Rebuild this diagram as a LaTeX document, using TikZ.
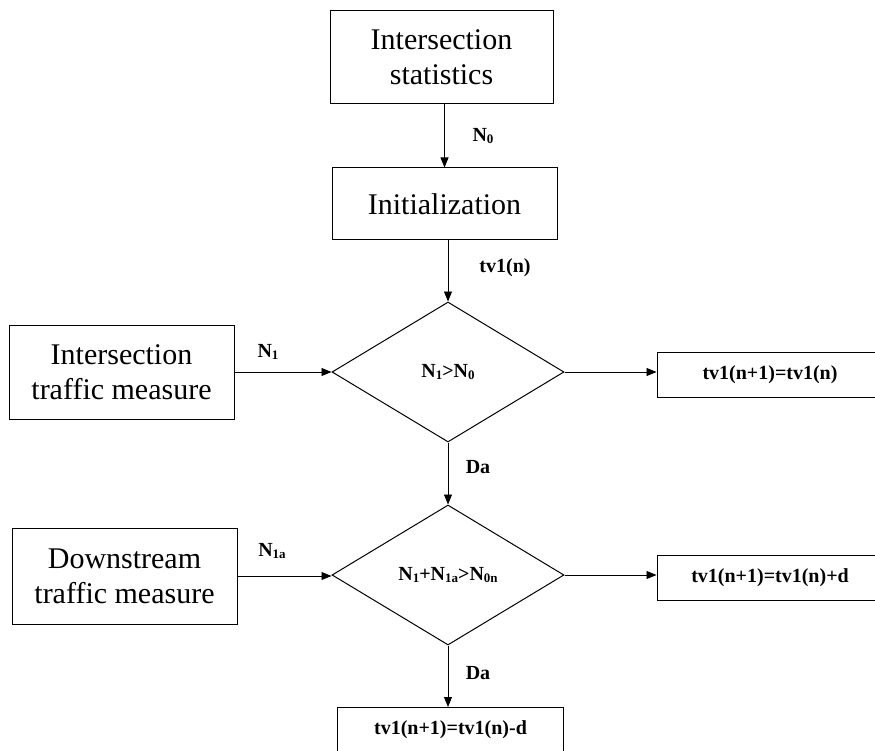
\documentclass[tikz,border=0pt]{standalone}
\usepackage{fontspec}
\setmainfont{Liberation Serif}
\usetikzlibrary{shapes.geometric,arrows.meta}
\newcommand{\mysub}[1]{\raisebox{-0.3ex}{\fontsize{13}{13}\selectfont #1}}
\begin{document}
\begin{tikzpicture}[x=1pt,y=-1pt,
  bigbox/.style={draw,line width=1pt,inner sep=0pt,align=center,
    font=\fontsize{30}{35}\selectfont},
  smallbox/.style={draw,line width=1pt,inner sep=0pt,align=center,
    minimum width=226pt,minimum height=45pt,font=\fontsize{20}{24}\selectfont\bfseries},
  decision/.style={draw,line width=1pt,diamond,aspect=1.657,inner sep=0pt,
    minimum width=232pt,minimum height=140pt,font=\fontsize{20}{24}\selectfont\bfseries},
  lbl/.style={inner sep=0pt,font=\fontsize{20}{24}\selectfont\bfseries},
  arr/.style={draw,line width=0.8pt,-{Triangle[length=10pt,width=8pt]}}]
\useasboundingbox (0,0) rectangle (875,751);
\clip (0,0) rectangle (875,751);
\node[bigbox,minimum width=223pt,minimum height=93pt] (stats) at (441.5,57.5) {Intersection\\statistics};
\node[bigbox,minimum width=225pt,minimum height=72pt] (init) at (444.5,204) {Initialization};
\node[decision] (d1) at (448,372) {N\mysub{1}>N\mysub{0}};
\node[decision] (d2) at (448,575) {N\mysub{1}+N\mysub{1a}>N\mysub{0n}};
\node[bigbox,minimum width=225pt,minimum height=94pt] (left1) at (121.5,372) {Intersection\\traffic measure};
\node[bigbox,minimum width=225pt,minimum height=96pt] (left2) at (124.5,576) {Downstream\\traffic measure};
\node[smallbox] (right1) at (770,374.5) {tv1(n+1)=tv1(n)};
\node[smallbox] (right2) at (770,577.5) {tv1(n+1)=tv1(n)+d};
\node[smallbox] (bottom) at (450.5,730) {tv1(n+1)=tv1(n)-d};
\draw[arr] (stats.south -| init.north) -- (init.north);
\draw[arr] (init.south -| d1.north) -- (d1.north);
\draw[arr] (left1.east) -- (d1.west);
\draw[arr] (d1.east) -- (d1.east -| right1.west);
\draw[arr] (d1.south) -- (d2.north);
\draw[arr] (left2.east) -- (left2.east -| d2.west);
\draw[arr] (d2.east) -- (d2.east -| right2.west);
\draw[arr] (d2.south) -- (d2.south |- bottom.north);
\node[lbl] (l0) at (483,136) {N\mysub{0}};
\node[lbl] (l1) at (505,268) {tv1(n)};
\node[lbl] (l2) at (268,352) {N\mysub{1}};
\node[lbl] (l3) at (272,551) {N\mysub{1a}};
\node[lbl] (l4) at (478,467) {Da};
\node[lbl] (l5) at (478,673) {Da};
\end{tikzpicture}
\end{document}
